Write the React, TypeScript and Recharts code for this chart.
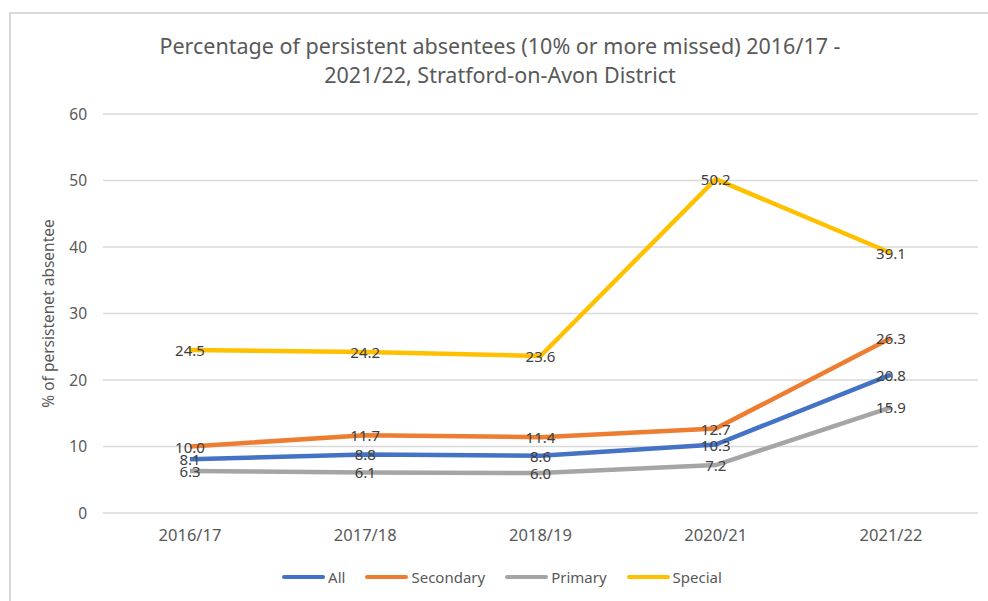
import { LineChart, Line, XAxis, YAxis, CartesianGrid, Legend } from 'recharts';

const years = ['2016/17', '2017/18', '2018/19', '2020/21', '2021/22'];
const allPupils = [8.1, 8.8, 8.6, 10.3, 20.8];
const secondary = [10.0, 11.7, 11.4, 12.7, 26.3];
const primary = [6.3, 6.1, 6.0, 7.2, 15.9];
const special = [24.5, 24.2, 23.6, 50.2, 39.1];
const yTicks = [0, 10, 20, 30, 40, 50, 60];

const chartData = years.map((year, i) => ({
    year,
    All: allPupils[i],
    Secondary: secondary[i],
    Primary: primary[i],
    Special: special[i],
}));

const seriesList = [
    { key: 'All', color: '#4472C4' },
    { key: 'Secondary', color: '#ED7D31' },
    { key: 'Primary', color: '#A5A5A5' },
    { key: 'Special', color: '#FFC000' },
];

const font = '"Noto Sans", "Open Sans", sans-serif';
const textGrey = '#595959';

const DataLabel = (props: any) => {
    const { x, y, value } = props;
    if (x == null || y == null || value == null) return null;
    return (
        <text
            x={x}
            y={y}
            textAnchor="middle"
            dominantBaseline="central"
            fill="#404040"
            fontSize={15}
            fontFamily={font}
        >
            {Number(value).toFixed(1)}
        </text>
    );
};

const YLabel = (props: any) => {
    const vb = props.viewBox || {};
    const cx = 48;
    const cy = (vb.y ?? 114) + (vb.height ?? 399) / 2;
    return (
        <text
            x={cx}
            y={cy}
            transform={`rotate(-90, ${cx}, ${cy})`}
            textAnchor="middle"
            dominantBaseline="central"
            fill={textGrey}
            fontSize={15.5}
            fontFamily={font}
        >
            % of persistenet absentee
        </text>
    );
};

const ChartLegend = () => (
    <div style={{ display: 'flex', justifyContent: 'center', gap: '20px', paddingLeft: '26px', height: '24px', alignItems: 'center' }}>
        {seriesList.map((s) => (
            <div key={s.key} style={{ display: 'flex', alignItems: 'center', gap: '3px' }}>
                <div style={{ width: '43px', height: '4px', backgroundColor: s.color, borderRadius: '2px' }} />
                <span style={{ color: textGrey, fontSize: '15px', fontFamily: font }}>{s.key}</span>
            </div>
        ))}
    </div>
);

export default function App() {
    return (
        <div style={{ position: 'absolute', left: 0, top: 0, width: 988, height: 601, background: '#fff', overflow: 'hidden' }}>
            <div style={{
                position: 'absolute', left: 9, top: 12, width: 990, height: 600,
                borderTop: '2px solid #d9d9d9', borderLeft: '2px solid #d9d9d9'
            }} />
            <div style={{
                position: 'absolute', left: 0, top: 31, width: 1000, textAlign: 'center',
                color: textGrey, fontFamily: font, fontSize: '21.5px', lineHeight: '29px'
            }}>
                Percentage of persistent absentees (10% or more missed) 2016/17 -<br />
                2021/22, Stratford-on-Avon District
            </div>
            <div style={{ position: 'absolute', left: 0, top: 0 }}>
                <LineChart
                    width={988}
                    height={601}
                    data={chartData}
                    margin={{ top: 114, right: 10, bottom: 12, left: 0 }}
                >
                    <CartesianGrid vertical={false} stroke="#d9d9d9" strokeWidth={1.5} />
                    <XAxis
                        dataKey="year"
                        height={52}
                        padding={{ left: 87, right: 87 }}
                        axisLine={false}
                        tickLine={false}
                        tickSize={0}
                        tickMargin={16}
                        tick={{ fill: textGrey, fontSize: 16.5, fontFamily: font }}
                    />
                    <YAxis
                        width={103}
                        domain={[0, 60]}
                        ticks={yTicks}
                        axisLine={false}
                        tickLine={false}
                        tickSize={0}
                        tickMargin={16}
                        tick={{ fill: textGrey, fontSize: 15.5, fontFamily: font }}
                        label={<YLabel />}
                    />
                    <Legend verticalAlign="bottom" height={24} content={<ChartLegend />} />
                    {seriesList.map((s) => (
                        <Line
                            key={s.key}
                            type="linear"
                            dataKey={s.key}
                            stroke={s.color}
                            strokeWidth={4.5}
                            dot={false}
                            activeDot={false}
                            isAnimationActive={false}
                            label={<DataLabel />}
                        />
                    ))}
                </LineChart>
            </div>
        </div>
    );
}
